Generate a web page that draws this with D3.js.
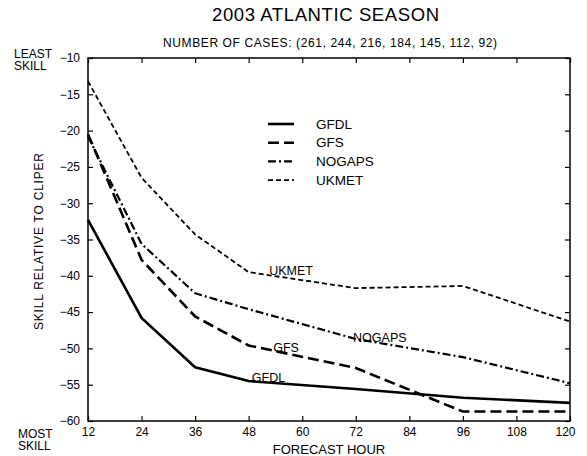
<!DOCTYPE html>
<html>
<head>
<meta charset="utf-8">
<script src="https://cdn.jsdelivr.net/npm/d3@7"></script>
<style>
  body { margin: 0; background: #fff; }
  svg { font-family: "Liberation Sans", Arial, sans-serif; }
</style>
</head>
<body>
<svg width="587" height="456"></svg>
<script>
// forecast hours with verifying cases
const hours = [12, 24, 36, 48, 72, 96, 120];
const cases = [261, 244, 216, 184, 145, 112, 92];

const gfdl = [-32.3, -45.8, -52.6, -54.5, -55.6, -56.8, -57.5];
const gfs = [-20.5, -37.8, -45.6, -49.6, -52.7, -58.7, -58.7];
const nogaps = [-20.8, -35.6, -42.4, -44.6, -48.7, -51.2, -54.8];
const ukmet = [-13.2, -26.5, -34.3, -39.5, -41.7, -41.4, -46.3];

const models = ["GFDL", "GFS", "NOGAPS", "UKMET"];
// where the inline names sit (hour, skill)
const labelHours = [48.7, 53.5, 71.4, 52.6];
const labelValues = [-54.6, -50.5, -49.1, -39.9];

const xTicks = [12, 24, 36, 48, 60, 72, 84, 96, 108, 120];
const yTicks = [-10, -15, -20, -25, -30, -35, -40, -45, -50, -55, -60];

const series = [gfdl, gfs, nogaps, ukmet];
const styles = [
  {w: 2.6, dash: null},
  {w: 2.6, dash: "11,5"},
  {w: 2.2, dash: "8,3,2,3"},
  {w: 1.8, dash: "5,3"}
];

const plotLeft = 88, plotRight = 570, plotTop = 58, plotBottom = 421;

const svg = d3.select("svg");

const x = d3.scaleLinear().domain([12, 120]).range([plotLeft, plotRight]);
const y = d3.scaleLinear().domain([-60, -10]).range([plotBottom, plotTop]);

// frame
svg.append("rect")
  .attr("x", plotLeft).attr("y", plotTop)
  .attr("width", plotRight - plotLeft).attr("height", plotBottom - plotTop)
  .attr("fill", "none").attr("stroke", "#000").attr("stroke-width", 1.5);

// axes, ticks pointing inward
const axisStyle = g => {
  g.select(".domain").remove();
  g.selectAll("line").attr("stroke", "#000").attr("stroke-width", 1.2);
  g.selectAll("text").attr("fill", "#000").attr("font-size", 12)
    .attr("font-family", "Liberation Sans, Arial, sans-serif");
};

svg.append("g")
  .attr("transform", `translate(0,${plotBottom})`)
  .call(d3.axisBottom(x).tickValues(xTicks).tickSize(-5).tickPadding(6))
  .call(axisStyle)
  .call(g => g.selectAll("text").filter(d => d === 120).attr("dx", -5));

svg.append("g")
  .attr("transform", `translate(0,${plotTop})`)
  .call(d3.axisTop(x).tickValues(xTicks).tickSize(-5).tickFormat(""))
  .call(axisStyle);

svg.append("g")
  .attr("transform", `translate(${plotLeft},0)`)
  .call(d3.axisLeft(y).tickValues(yTicks).tickSize(-5).tickPadding(8))
  .call(axisStyle);

svg.append("g")
  .attr("transform", `translate(${plotRight},0)`)
  .call(d3.axisRight(y).tickValues(yTicks).tickSize(-5).tickFormat(""))
  .call(axisStyle);

// lines
const line = d3.line()
  .x((d, i) => x(hours[i]))
  .y(d => y(d));

series.forEach((s, i) => {
  svg.append("path")
    .datum(s)
    .attr("d", line)
    .attr("fill", "none")
    .attr("stroke", "#000")
    .attr("stroke-width", styles[i].w)
    .attr("stroke-dasharray", styles[i].dash);
});

// inline labels
svg.append("g")
  .selectAll("text")
  .data(models)
  .join("text")
  .attr("x", (d, i) => x(labelHours[i]))
  .attr("y", (d, i) => y(labelValues[i]))
  .attr("font-size", 12.5)
  .text(d => d);

// legend
const legend = svg.append("g").attr("transform", "translate(268,124)");
models.forEach((m, i) => {
  const row = legend.append("g").attr("transform", `translate(0,${i * 18.7})`);
  row.append("line")
    .attr("x1", 0).attr("x2", 26)
    .attr("stroke", "#000")
    .attr("stroke-width", styles[i].w)
    .attr("stroke-dasharray", styles[i].dash);
  row.append("text")
    .attr("x", 48).attr("y", 4.5)
    .attr("font-size", 13.5)
    .text(m);
});

// titles
svg.append("text")
  .attr("x", 325.5).attr("y", 21)
  .attr("text-anchor", "middle")
  .attr("font-size", 18.5)
  .attr("textLength", 227)
  .text("2003 ATLANTIC SEASON");

svg.append("text")
  .attr("x", 330).attr("y", 47)
  .attr("text-anchor", "middle")
  .attr("font-size", 12)
  .attr("textLength", 334)
  .text(`NUMBER OF CASES: (${cases.join(", ")})`);

svg.append("text")
  .attr("x", 329).attr("y", 454)
  .attr("text-anchor", "middle")
  .attr("font-size", 13)
  .text("FORECAST HOUR");

svg.append("text")
  .attr("transform", "translate(43,241.5) rotate(-90)")
  .attr("text-anchor", "middle")
  .attr("font-size", 12)
  .attr("textLength", 177)
  .text("SKILL RELATIVE TO CLIPER");

const corner = (lines, xx, yy) => {
  const t = svg.append("text").attr("font-size", 12);
  lines.forEach((l, i) => {
    t.append("tspan").attr("x", xx).attr("y", yy + i * 12.5).text(l);
  });
};
corner(["LEAST", "SKILL"], 14, 57.5);
corner(["MOST", "SKILL"], 18, 437.5);
</script>
</body>
</html>
